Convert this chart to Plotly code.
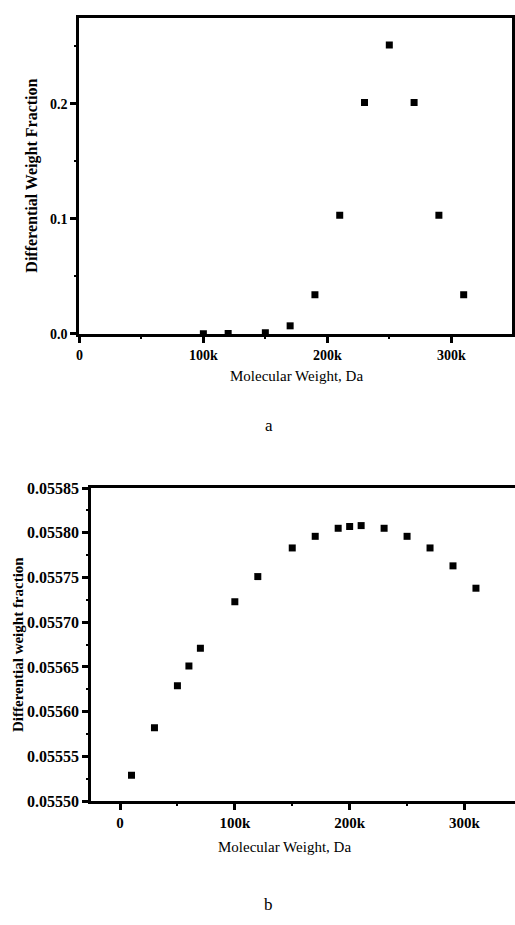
import plotly.graph_objects as go

# Chart a data
mw_a = [100000, 120000, 150000, 170000, 190000, 210000, 230000, 250000, 270000, 290000, 310000]
dwf_a = [0.0001, 0.0003, 0.001, 0.007, 0.034, 0.103, 0.201, 0.251, 0.201, 0.103, 0.034]

# Chart b data
mw_b = [10000, 30000, 50000, 60000, 70000, 100000, 120000, 150000, 170000, 190000, 200000,
        210000, 230000, 250000, 270000, 290000, 310000]
dwf_b = [0.055529, 0.055582, 0.055629, 0.055651, 0.055671, 0.055723, 0.055751, 0.055783,
         0.055796, 0.055805, 0.055807, 0.055808, 0.055805, 0.055796, 0.055783, 0.055763, 0.055738]

W, H = 515, 925
FONT = "Liberation Serif"

def px_x(p):
    return p / W

def px_y(p):
    return 1 - p / H

fig = go.Figure()
fig.add_trace(go.Scatter(x=mw_a, y=dwf_a, mode="markers", xaxis="x", yaxis="y",
                         marker=dict(symbol="square", size=7, color="black"), showlegend=False))
fig.add_trace(go.Scatter(x=mw_b, y=dwf_b, mode="markers", xaxis="x2", yaxis="y2",
                         marker=dict(symbol="square", size=7, color="black"), showlegend=False))

axis_common = dict(showgrid=False, zeroline=False, showline=True, linecolor="black", linewidth=3,
                   ticks="outside", ticklen=6, tickwidth=3, tickcolor="black")

def ann(text, x, y, size, angle=0):
    return dict(text=text, xref="paper", yref="paper", x=px_x(x), y=px_y(y),
                xanchor="center", yanchor="middle", textangle=angle, showarrow=False,
                font=dict(family=FONT, size=size, color="black"))

fig.update_layout(
    width=W, height=H, margin=dict(l=0, r=0, t=0, b=0),
    paper_bgcolor="white", plot_bgcolor="white",
    xaxis=dict(domain=[px_x(76), px_x(512)], anchor="y", range=[0, 349000], mirror=True,
               dtick=100000, tick0=0, tickformat="~s",
               tickfont=dict(family=FONT, size=14, color="black", weight="bold"),
               minor=dict(ticks="outside", ticklen=2, tickwidth=2, dtick=50000, tickcolor="black"),
               **axis_common),
    yaxis=dict(domain=[px_y(332), px_y(10)], anchor="x", range=[0, 0.2745], mirror=True,
               dtick=0.1, tick0=0, tickformat=".1f",
               tickfont=dict(family=FONT, size=14, color="black", weight="bold"),
               minor=dict(ticks="outside", ticklen=2, tickwidth=2, dtick=0.05, tickcolor="black"),
               **axis_common),
    xaxis2=dict(domain=[px_x(88), 1], anchor="y2", range=[-25000, 344000], mirror=True,
                dtick=100000, tick0=0, tickformat="~s",
                tickfont=dict(family=FONT, size=15, color="black", weight="bold"),
                minor=dict(ticks="outside", ticklen=2, tickwidth=2, dtick=50000, tickcolor="black"),
                **axis_common),
    yaxis2=dict(domain=[px_y(808), px_y(489)], anchor="x2", range=[0.0555, 0.05585], mirror=False,
                dtick=0.00005, tick0=0.0555, tickformat=".5f",
                tickfont=dict(family=FONT, size=16, color="black", weight="bold"),
                minor=dict(ticks="outside", ticklen=2, tickwidth=2, dtick=0.000025, tickcolor="black"),
                **axis_common),
    annotations=[
        ann("<b>Differential Weight Fraction</b>", 28, 171, 16, -90),
        ann("Molecular Weight, Da", 295, 375, 15),
        ann("a", 267, 425, 17),
        ann("<b>Differential weight fraction</b>", 14, 648, 15, -90),
        ann("Molecular Weight, Da", 283, 855, 15),
        ann("b", 267, 913, 17),
    ],
)

fig.write_html("out.html")
